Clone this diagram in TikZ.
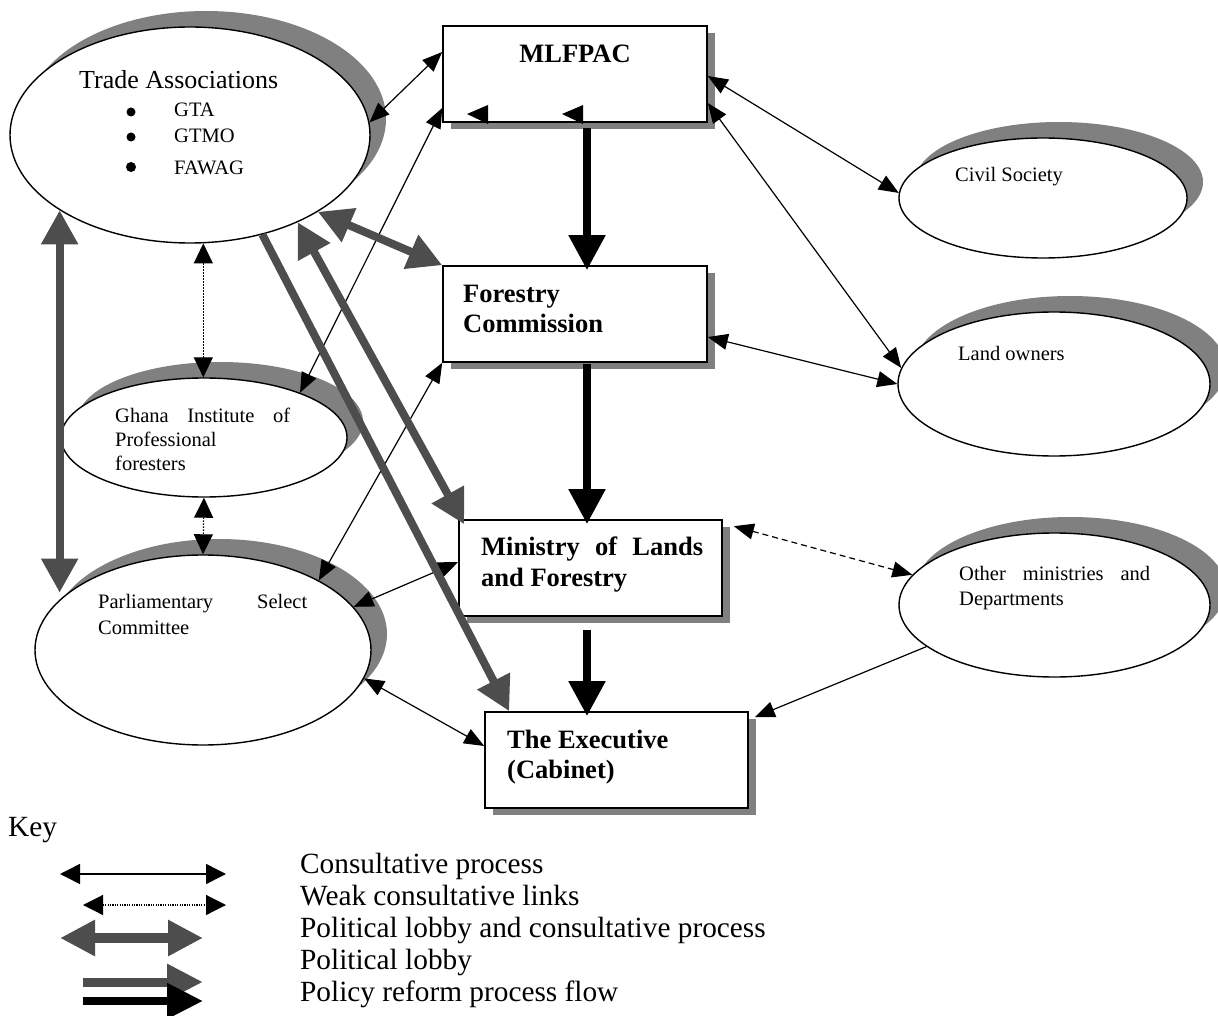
\documentclass[tikz,border=0pt]{standalone}
\usepackage{fontspec}
\setmainfont{Liberation Serif}
\usetikzlibrary{arrows.meta,shapes.geometric,shadows,calc}
\definecolor{shadowgray}{RGB}{128,128,128}
\definecolor{lobbygray}{RGB}{77,77,77}
\begin{document}
\begin{tikzpicture}[x=1pt,y=-1pt,
  orgbox/.style={draw, line width=1.6pt, fill=white, rectangle, inner sep=0pt,
    minimum width=264pt, minimum height=96pt,
    general shadow={fill=shadowgray, shadow xshift=8pt, shadow yshift=-7pt}},
  oval/.style={draw, line width=1.4pt, fill=white, ellipse, inner sep=0pt,
    general shadow={fill=shadowgray, shadow xshift=16pt, shadow yshift=16pt}},
  consult/.style={line width=1.2pt, {Triangle[length=20pt,width=16pt]}-{Triangle[length=20pt,width=16pt]}},
  consultone/.style={line width=1.2pt, -{Triangle[length=20pt,width=16pt]}},
  dashc/.style={line width=1.2pt, dash pattern=on 6pt off 4pt, {Triangle[length=20pt,width=16pt]}-{Triangle[length=20pt,width=16pt]}},
  weak/.style={line width=1.2pt, dash pattern=on 1.5pt off 1.5pt, {Triangle[length=20pt,width=19pt]}-{Triangle[length=20pt,width=19pt]}},
  lobbyboth/.style={line width=8pt, draw=lobbygray, {Triangle[length=34pt,width=35pt]}-{Triangle[length=34pt,width=35pt]}},
  lobbyone/.style={line width=8pt, draw=lobbygray, -{Triangle[length=34pt,width=35pt]}},
  policy/.style={line width=8pt, draw=black, -{Triangle[length=35pt,width=35pt]}},
  bigb/.style={inner sep=0pt, anchor=base west, font=\bfseries\fontsize{26.5}{31}\selectfont},
  oblab/.style={inner sep=0pt, anchor=base west, font=\fontsize{20.5}{25}\selectfont},
  keylab/.style={inner sep=0pt, anchor=base west, font=\fontsize{29.3}{32}\selectfont}
]
\useasboundingbox (0,0) rectangle (1218,1016);
\clip (0,0) rectangle (1218,1016);

% boxes
\node[orgbox] (ml) at (575,74) {};
\node[orgbox] (fc) at (575,314) {};
\node[orgbox, minimum width=263pt] (mlf) at (590.5,568) {};
\node[orgbox, minimum width=263pt] (ex) at (616.5,760) {};

% ellipses
\node[oval, minimum width=360pt, minimum height=216pt] (ta) at (190,135) {};
\node[oval, minimum width=286pt, minimum height=119pt] (gi) at (204,437.5) {};
\node[oval, minimum width=336pt, minimum height=190pt] (pc) at (203,650) {};
\node[oval, minimum width=288pt, minimum height=120pt] (cs) at (1043,198) {};
\node[oval, minimum width=312pt, minimum height=144pt] (lo) at (1054,384) {};
\node[oval, minimum width=311pt, minimum height=144pt] (om) at (1054.5,605) {};

% stray arrowheads inside MLFPAC
\fill (467,114) -- (488,105) -- (488,124) -- cycle;
\fill (562,114) -- (583,105) -- (583,124) -- cycle;

% texts in boxes
\node[bigb, anchor=base] (mlt) at (575,63) {MLFPAC};
\node[bigb] (fct1) at (463,302) {Forestry};
\node[bigb] (fct2) at (463,333) {Commission};
\node[bigb] (mlft1) at (481,555) {\makebox[222pt][s]{Ministry of Lands}};
\node[bigb] (mlft2) at (481,586) {and Forestry};
\node[bigb] (ext1) at (507,748) {The Executive};
\node[bigb] (ext2) at (507,778) {(Cabinet)};

% texts in ellipses
\node[inner sep=0pt, anchor=base west, font=\fontsize{26}{31}\selectfont] (tat) at (79,89) {Trade Associations};
\fill (131,112) circle (4.5);
\fill (131,137) circle (4.5);
\fill (131,167) circle (5);
\node[oblab] (gta) at (174,117) {GTA};
\node[oblab] (gtmo) at (174,143) {GTMO};
\node[oblab] (fawag) at (174,175) {FAWAG};
\node[oblab] (git1) at (115,422) {\makebox[175pt][s]{Ghana Institute of}};
\node[oblab] (git2) at (115,446) {Professional};
\node[oblab] (git3) at (115,470) {foresters};
\node[oblab] (pct1) at (98,608) {\makebox[209pt][s]{Parliamentary Select}};
\node[oblab] (pct2) at (98,634) {Committee};
\node[oblab] (cst) at (955,182) {Civil Society};
\node[oblab] (lot) at (958,360) {Land owners};
\node[oblab] (omt1) at (959,580) {\makebox[191pt][s]{Other ministries and}};
\node[oblab] (omt2) at (959,605) {Departments};

% consultative links
\draw[consult] (ta.4) -- ([yshift=22pt]ml.west);
\draw[consult] ([yshift=-2pt]ml.east) -- (cs.178);
\draw[consult] ([yshift=-29pt]ml.east) -- (lo.174);
\draw[consult] ([yshift=-23pt]fc.east) -- (lo.180);
\draw[consult] (gi.25) -- ([yshift=-34pt]ml.west);
\draw[consult] (fc.south west) -- (pc.31);
\draw[consult] ([yshift=6pt]mlf.west) -- (pc.16);
\draw[consult] ([yshift=14pt]ex.west) -- (pc.-10);
\draw[consultone] (om.198) -- ([xshift=6pt,yshift=-6pt]ex.north east);
\draw[dashc] ([xshift=11pt,yshift=-7pt]mlf.north east) -- (om.168);

% weak links
\draw[weak] (ta.-83) -- (ta.-83 |- gi.north);
\draw[weak] (gi.south) -- (pc.north);

% political lobby
\draw[lobbyboth] (ta.210) -- (ta.210 |- pc.157);
\draw[lobbyboth] (ta.-31) -- (fc.north west);
\draw[lobbyboth] (ta.-39) -- ([xshift=6pt,yshift=-5pt]mlf.north west);
\draw[lobbyone] (ta.-54) -- ([xshift=25pt]ex.north west);

% policy reform flow
\draw[policy] ([xshift=12pt,yshift=-5pt]ml.south) -- ([xshift=12pt,yshift=-5pt]fc.north);
\draw[policy] ([xshift=12pt,yshift=-1pt]fc.south) -- ([xshift=-3.5pt,yshift=-5pt]mlf.north);
\draw[policy] ([xshift=-3.5pt,yshift=-13pt]mlf.south) -- ([xshift=-29.5pt,yshift=-5pt]ex.north);

% key
\node[keylab] (key) at (8,836) {Key};
\coordinate (k1a) at (60,874); \coordinate (k1b) at (226,874);
\coordinate (k2a) at (83,905); \coordinate (k2b) at (226,905);
\coordinate (k3a) at (60,938); \coordinate (k3b) at (203,938);
\coordinate (k4a) at (83,982); \coordinate (k4b) at (203,982);
\coordinate (k5a) at (83,1001); \coordinate (k5b) at (203,1001);
\draw[line width=1.5pt, {Triangle[length=20pt,width=20pt]}-{Triangle[length=20pt,width=20pt]}] (k1a) -- (k1b);
\draw[line width=1.2pt, dash pattern=on 1.2pt off 1.2pt, {Triangle[length=20pt,width=20pt]}-{Triangle[length=20pt,width=20pt]}] (k2a) -- (k2b);
\draw[line width=10pt, draw=lobbygray, {Triangle[length=35pt,width=34pt]}-{Triangle[length=35pt,width=34pt]}] (k3a) -- (k3b);
\draw[line width=9pt, draw=lobbygray, -{Triangle[length=36pt,width=34pt]}] (k4a) -- (k4b);
\draw[line width=8pt, draw=black, -{Triangle[length=36pt,width=34pt]}] (k5a) -- (k5b);
\node[keylab] (kt1) at (300,873) {Consultative process};
\node[keylab] (kt2) at (300,905) {Weak consultative links};
\node[keylab] (kt3) at (300,937) {Political lobby and consultative process};
\node[keylab] (kt4) at (300,969) {Political lobby};
\node[keylab] (kt5) at (300,1001) {Policy reform process flow};
\end{tikzpicture}
\end{document}
